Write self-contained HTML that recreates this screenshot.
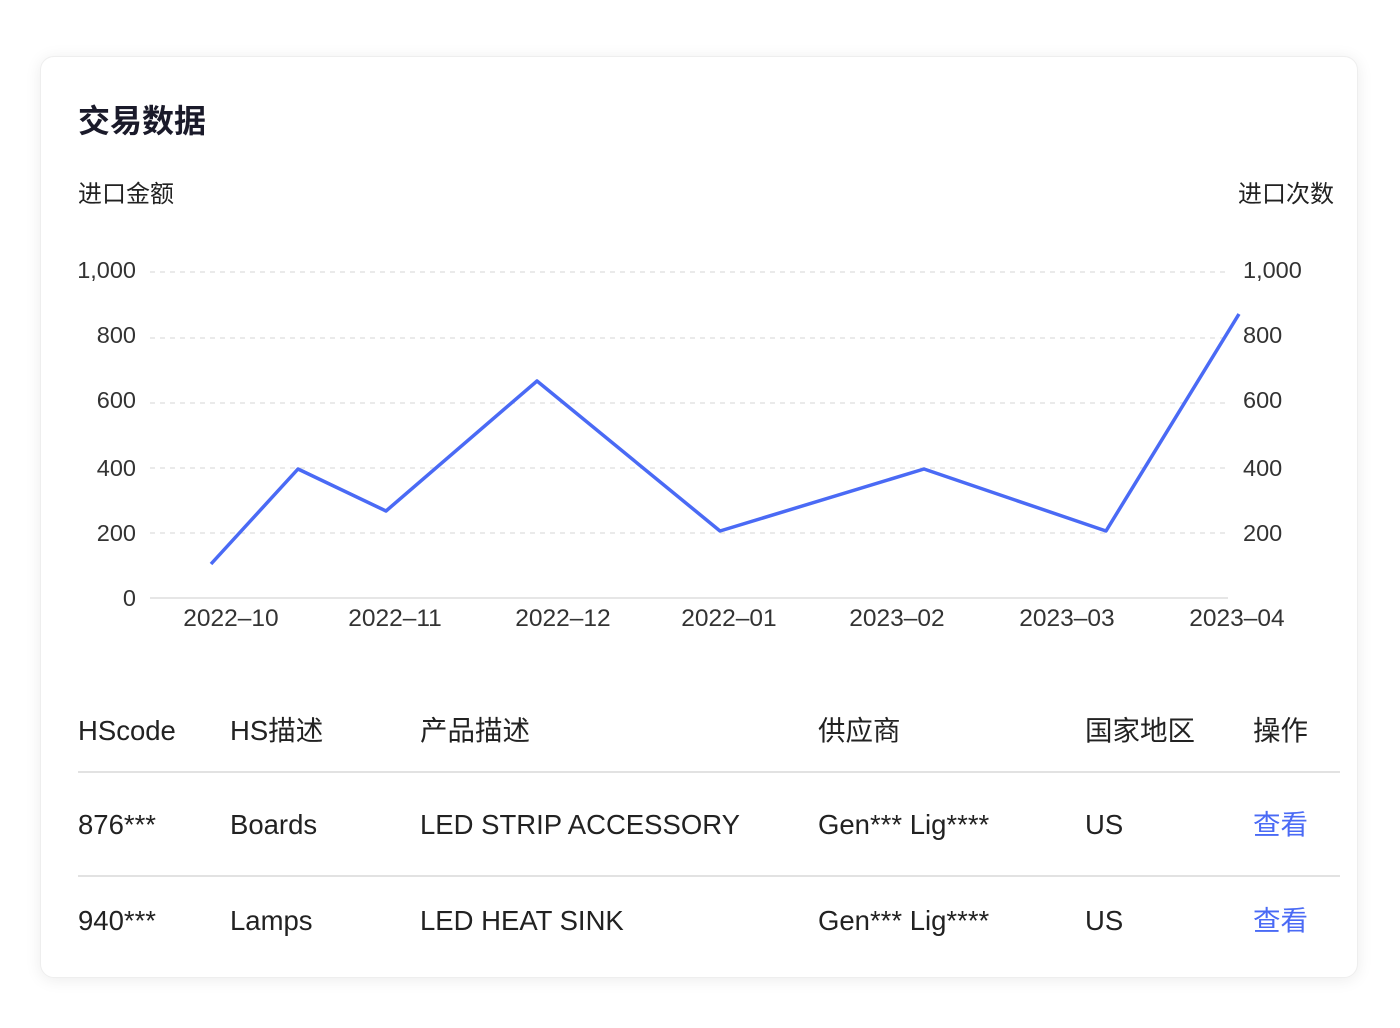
<!DOCTYPE html>
<html><head><meta charset="utf-8"><style>
html,body{margin:0;padding:0;background:#fff;}
body{width:1400px;height:1028px;position:relative;}
.card{position:absolute;left:40px;top:56px;width:1318px;height:922px;border-radius:14px;background:#fff;box-shadow:0 2px 16px rgba(0,0,0,0.08);border:1px solid #eee;box-sizing:border-box;}
svg{position:absolute;left:0;top:0;}
</style></head><body>
<div class="card"></div>
<svg width="1400" height="1028" font-family="Liberation Sans, Noto Sans CJK SC, sans-serif" font-size="23.5" fill="#333">
<text x="78" y="132" font-size="32" font-weight="bold" fill="#1a1a2a">交易数据</text>
<text x="78" y="202" font-size="24" fill="#222">进口金额</text>
<text x="1238" y="202" font-size="24" fill="#222">进口次数</text>
<g stroke="#e3e3e3" stroke-width="1.5" stroke-dasharray="5,5">
<line x1="150" y1="272" x2="1228" y2="272"/>
<line x1="150" y1="338" x2="1228" y2="338"/>
<line x1="150" y1="403" x2="1228" y2="403"/>
<line x1="150" y1="468" x2="1228" y2="468"/>
<line x1="150" y1="533" x2="1228" y2="533"/>
</g>
<line x1="150" y1="598" x2="1228" y2="598" stroke="#ddd" stroke-width="1.5"/>
<g text-anchor="end">
<text x="136" y="278">1,000</text><text x="136" y="343">800</text><text x="136" y="408">600</text>
<text x="136" y="476">400</text><text x="136" y="541">200</text><text x="136" y="606">0</text>
</g>
<g text-anchor="start">
<text x="1243" y="278">1,000</text><text x="1243" y="343">800</text><text x="1243" y="408">600</text>
<text x="1243" y="476">400</text><text x="1243" y="541">200</text>
</g>
<g text-anchor="middle" font-size="24.5">
<text x="231" y="626">2022–10</text><text x="395" y="626">2022–11</text><text x="563" y="626">2022–12</text>
<text x="729" y="626">2022–01</text><text x="897" y="626">2023–02</text><text x="1067" y="626">2023–03</text><text x="1237" y="626">2023–04</text>
</g>
<polyline fill="none" stroke="#4a6af5" stroke-width="3.5" stroke-linejoin="round" points="211,564 298,469 386,511 537,381 720,531 924,469 1106,531 1239,314"/>
<g stroke="#e2e2e2" stroke-width="2"><line x1="78" y1="772" x2="1340" y2="772"/><line x1="78" y1="876" x2="1340" y2="876"/></g>
<g font-size="27.5" fill="#222">
<text x="78" y="740">HScode</text>
<text x="230" y="740">HS描述</text>
<text x="420" y="740">产品描述</text>
<text x="818" y="740">供应商</text>
<text x="1085" y="740">国家地区</text>
<text x="1253" y="740">操作</text>
<text x="78" y="834">876***</text>
<text x="230" y="834">Boards</text>
<text x="420" y="834">LED STRIP ACCESSORY</text>
<text x="818" y="834">Gen*** Lig****</text>
<text x="1085" y="834">US</text>
<text x="1253" y="834" fill="#4a6af5">查看</text>
<text x="78" y="930">940***</text>
<text x="230" y="930">Lamps</text>
<text x="420" y="930">LED HEAT SINK</text>
<text x="818" y="930">Gen*** Lig****</text>
<text x="1085" y="930">US</text>
<text x="1253" y="930" fill="#4a6af5">查看</text>
</g>
</svg>
</body></html>
